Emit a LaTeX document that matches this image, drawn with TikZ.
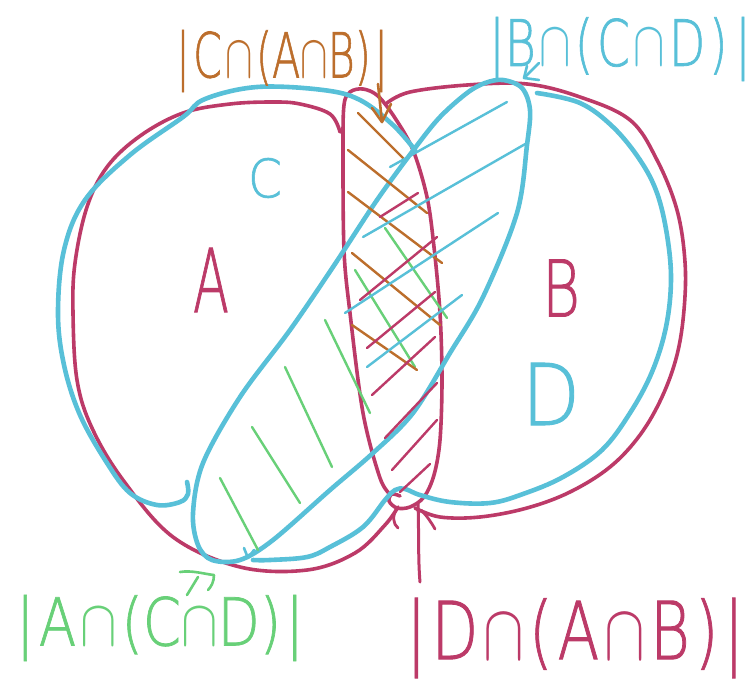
\documentclass[tikz,border=0pt]{standalone}
\usepackage{fontspec}
\IfFontExistsTF{DejaVu Sans ExtraLight}{\newfontfamily\hand{DejaVu Sans ExtraLight}[FakeBold=1.2]}{\newfontfamily\hand{DejaVu Sans}}
\definecolor{mag}{RGB}{188,58,104}
\definecolor{cy}{RGB}{88,192,216}
\definecolor{grn}{RGB}{104,208,120}
\definecolor{org}{RGB}{188,110,44}
\newcommand{\gapx}{\hspace{0.08em}}
\newcommand{\capx}{\ensuremath{\cap}}
\tikzset{
  magline/.style={draw=mag, line width=3.6pt, line cap=round, line join=round},
  cyline/.style={draw=cy, line width=4.6pt, line cap=round, line join=round},
  hatchline/.style={line width=2.4pt, line cap=round},
  lbl/.style={inner sep=0pt, anchor=center},
  thinpen/.style={line width=2.6pt, line cap=round, line join=round},
}
\begin{document}
\begin{tikzpicture}[x=1pt,y=-1pt]
\useasboundingbox (0,0) rectangle (753,683);
\fill[white] (0,0) rectangle (753,683);

% ---------- magenta: A and B ----------
\draw[magline] plot[smooth, tension=0.6] coordinates {(340,132) (330,114) (300,104) (273,102) (230,104) (183,113) (140,136) (107,167) (87,207) (75,263) (73,313) (77,380) (92,428) (123,480) (173,537) (240,567) (307,570) (355,553) (385,525) (398,507)};
\draw[magline] plot[smooth, tension=0.55] coordinates {(391,495) (380,478) (363,413) (350,313) (344,250) (343,150) (344,105) (350,92) (363,89) (378,96) (395,118) (413,150) (427,197) (434,247) (440,313) (442,380) (440,440) (434,475) (424,497) (410,507) (397,508) (389,501) (392,494) (400,496)};
\draw[magline] plot[smooth, tension=0.6] coordinates {(387,103) (410,92) (467,85) (527,84) (580,97) (630,120) (657,160) (677,210) (685,262) (684,310) (677,355) (662,397) (640,435) (610,467) (570,492) (527,508) (480,517) (440,517) (415,508)};
\draw[magline, line width=2.8pt] (397,508) .. controls (392,516) and (393,524) .. (398,528);
\draw[magline, line width=2.8pt] (421,510) .. controls (427,516) and (431,522) .. (435,529);
\coordinate (dTop) at (418,504);
\coordinate (dEnd) at (420,582);
\draw[magline, line width=3pt] (dTop) .. controls (419,530) and (418,560) .. (dEnd);

% ---------- cyan: C, D and the C-D overlap ----------
\draw[cyline] plot[smooth, tension=0.6] coordinates {(187,482) (188,494) (180,502) (157,505) (130,493) (107,463) (80,415) (64,365) (58,313) (64,250) (85,200) (130,155) (183,117) (205,99) (257,87) (323,90) (360,100) (393,125) (415,150)};
\draw[cyline] plot[smooth cycle, tension=0.55] coordinates {(503,80) (522,88) (530,110) (527,145) (517,213) (483,297) (450,353) (413,413) (373,453) (330,490) (273,540) (240,560) (212,560) (198,545) (193,513) (203,463) (240,397) (290,330) (333,267) (377,200) (415,148) (440,117) (467,93) (485,83)};
\draw[cyline] plot[smooth, tension=0.6] coordinates {(537,93) (580,103) (613,127) (640,160) (657,193) (667,235) (671,280) (666,327) (652,372) (630,413) (602,450) (563,477) (523,494) (490,503) (450,502) (420,495) (405,489) (395,490) (385,500) (363,527) (330,547) (307,557) (270,560) (253,560)};
\draw[cyline, line width=2.6pt] (244,548) -- (248,558) -- (254,550);

% ---------- hatching ----------
\foreach \a/\b in {{(220,478)}/{(258,550)}, {(252,427)}/{(300,503)}, {(285,367)}/{(332,467)}, {(325,320)}/{(370,413)}, {(355,270)}/{(415,367)}, {(385,228)}/{(447,318)}}
  \draw[hatchline, grn] \a -- \b;
\foreach \a/\b in {{(358,113)}/{(403,158)}, {(348,150)}/{(427,213)}, {(348,192)}/{(442,263)}, {(352,253)}/{(440,325)}, {(352,325)}/{(417,370)}}
  \draw[hatchline, org] \a -- \b;
\foreach \a/\b in {{(380,217)}/{(418,193)}, {(360,300)}/{(437,237)}, {(367,348)}/{(435,292)}, {(372,395)}/{(435,337)}, {(385,438)}/{(437,383)}, {(392,470)}/{(437,420)}, {(400,492)}/{(430,464)}}
  \draw[hatchline, mag] \a -- \b;
\foreach \a/\b in {{(390,167)}/{(507,102)}, {(363,237)}/{(527,143)}, {(345,313)}/{(498,213)}, {(367,367)}/{(462,295)}}
  \draw[hatchline, cy] \a -- \b;

% ---------- letters inside ----------
\node[lbl, text=cy] (lC) at (265,178) {\resizebox*{34pt}{40pt}{\hand C}};
\node[lbl, text=mag] (lA) at (211,280) {\resizebox*{36pt}{64pt}{\hand A}};
\node[lbl, text=mag] (lB) at (561,288) {\resizebox*{38pt}{57pt}{\hand B}};
\node[lbl, text=cy] (lD) at (551,394) {\resizebox*{58pt}{62pt}{\hand D}};

% ---------- labels ----------
\node[lbl, text=org] (labCAB) at (282,61) {\resizebox*{212pt}{62pt}{\hand |\gapx C\gapx\capx\gapx (A\capx B)\gapx |}};
\node[lbl, text=cy] (labBCD) at (620,49) {\resizebox*{262pt}{64pt}{\hand |B\gapx\capx\gapx (\gapx C\gapx\capx\gapx D\gapx )\gapx\gapx |}};
\node[lbl, text=grn] (labACD) at (160,628) {\resizebox*{288pt}{66pt}{\hand |\gapx A\gapx\capx\gapx (C\capx D)\gapx |}};
\node[lbl, text=mag] (labDAB) at (575,638) {\resizebox*{338pt}{80pt}{\hand |\gapx D\gapx\capx\gapx (\gapx A\gapx\capx\gapx B\gapx )\gapx |}};

% ---------- pointers ----------
\coordinate (oStart) at (378,84);
\coordinate (oTip) at (382,122);
\draw[thinpen, org] (oStart) -- (oTip);
\draw[thinpen, org] (372,108) -- (oTip) -- (391,104);

\coordinate (cStart) at (539,63);
\coordinate (cTip) at (524,78);
\draw[thinpen, cy] (cStart) -- (cTip);
\draw[thinpen, cy] (527,66) -- (cTip) -- (539,80);

\coordinate (gA) at (180,572);
\coordinate (gB) at (214,575);
\draw[thinpen, grn] (gA) .. controls (192,570) and (204,574) .. (gB) .. controls (214,582) and (211,587) .. (208,590);
\draw[thinpen, grn] (198,577) -- (187,595);
\end{tikzpicture}
\end{document}
